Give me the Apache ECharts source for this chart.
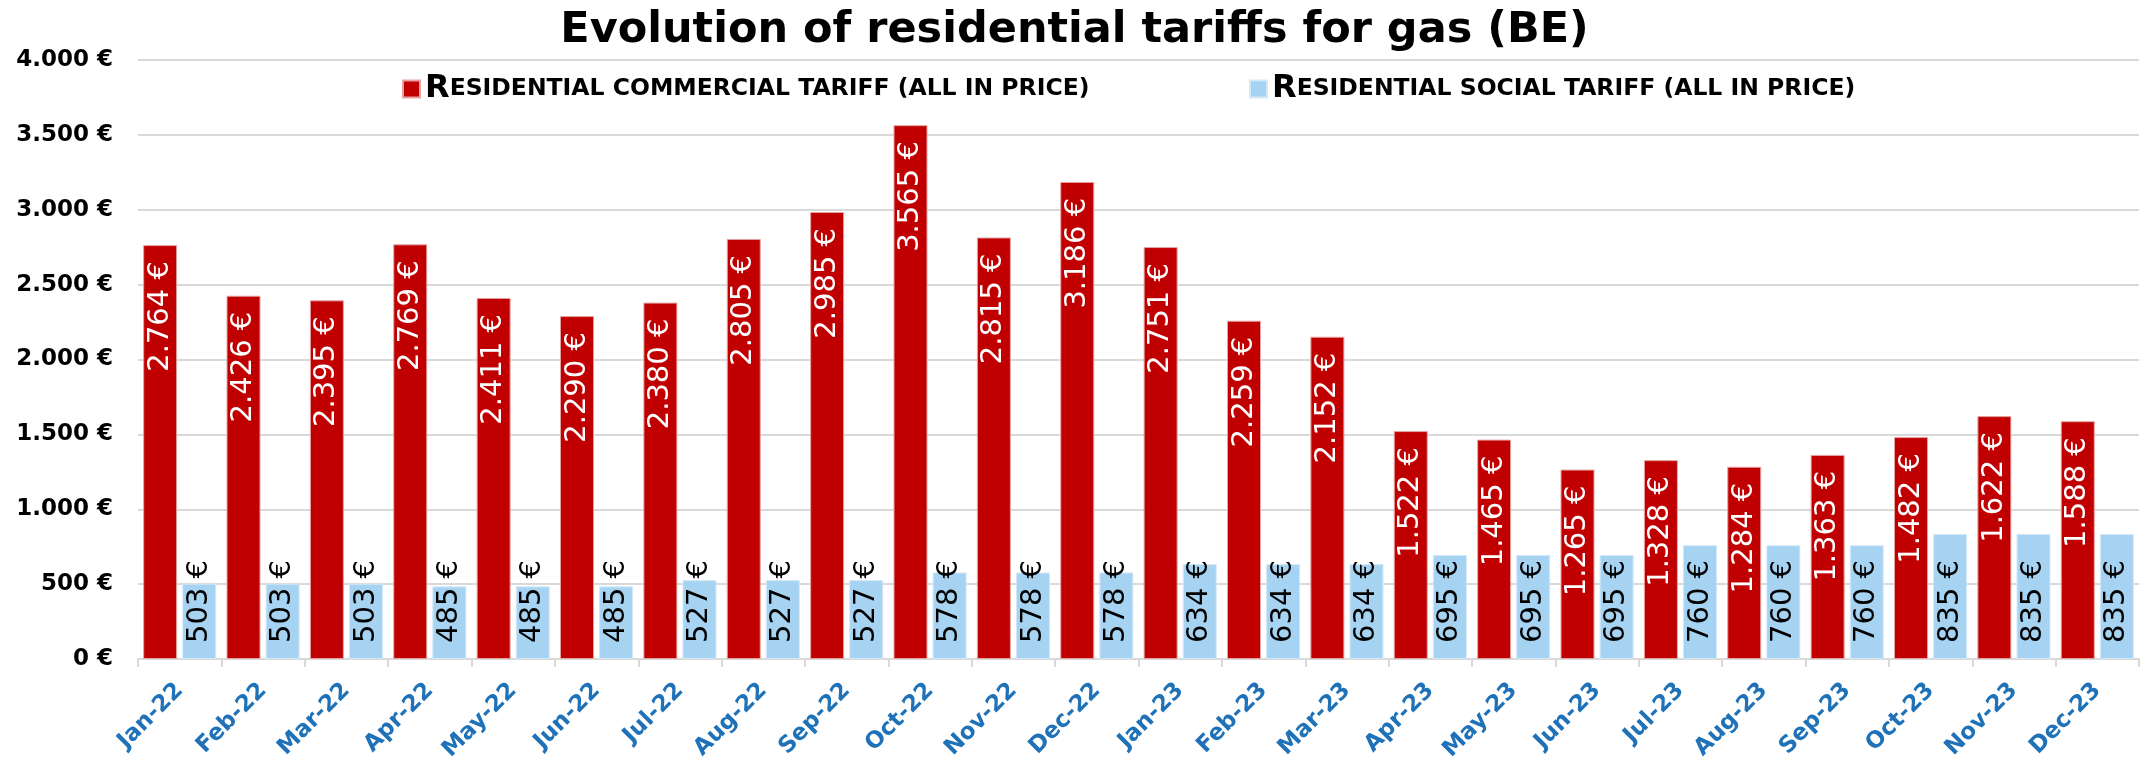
<!DOCTYPE html>
<html>
<head>
<meta charset="utf-8">
<title>Evolution of residential tariffs for gas (BE)</title>
<script src="https://cdn.jsdelivr.net/npm/echarts@6/dist/echarts.min.js"></script>
<style>
  html, body { margin: 0; padding: 0; background: #fff; }
  #chart { width: 2149px; height: 759px; }
</style>
</head>
<body>
<div id="chart"></div>
<script>
const months = ['Jan-22', 'Feb-22', 'Mar-22', 'Apr-22', 'May-22', 'Jun-22', 'Jul-22', 'Aug-22',
  'Sep-22', 'Oct-22', 'Nov-22', 'Dec-22', 'Jan-23', 'Feb-23', 'Mar-23', 'Apr-23', 'May-23',
  'Jun-23', 'Jul-23', 'Aug-23', 'Sep-23', 'Oct-23', 'Nov-23', 'Dec-23']
const commercial = [2764, 2426, 2395, 2769, 2411, 2290, 2380, 2805, 2985, 3565, 2815, 3186,
  2751, 2259, 2152, 1522, 1465, 1265, 1328, 1284, 1363, 1482, 1622, 1588]
const social = [503, 503, 503, 485, 485, 485, 527, 527, 527, 578, 578, 578,
  634, 634, 634, 695, 695, 695, 760, 760, 760, 835, 835, 835]
const yTicks = [0, 500, 1000, 1500, 2000, 2500, 3000, 3500, 4000]

const seriesNames = ['Residential commercial tariff (all in price)', 'Residential social tariff (all in price)']

// 2764 -> "2.764 €"
const euro = (v) => String(v).replace(/\B(?=(\d{3})+(?!\d))/g, '.') + ' €'

// fake small caps: first letter big, rest uppercase smaller
const smallCaps = (name) => '{a|' + name[0].toUpperCase() + '}{b|' + name.slice(1).toUpperCase() + '}'

const legendText = {
  rich: {
    a: { fontFamily: 'DejaVu Sans', fontWeight: 'bold', fontSize: 32, color: '#000' },
    b: { fontFamily: 'DejaVu Sans', fontWeight: 'bold', fontSize: 23.5, color: '#000' }
  }
}

const myChart = echarts.init(document.getElementById('chart'))

const options = {
  animation: false,
  title: {
    text: 'Evolution of residential tariffs for gas (BE)',
    left: 'center',
    top: 4,
    textStyle: {
      fontFamily: 'DejaVu Sans',
      fontWeight: 'bold',
      fontSize: 43,
      color: '#000'
    }
  },
  legend: [
    {
      data: [seriesNames[0]],
      top: 68,
      left: 397,
      itemWidth: 17,
      itemHeight: 17,
      icon: 'rect',
      formatter: smallCaps,
      textStyle: legendText
    },
    {
      data: [seriesNames[1]],
      top: 68,
      left: 1244,
      itemWidth: 17,
      itemHeight: 17,
      icon: 'rect',
      formatter: smallCaps,
      textStyle: legendText
    }
  ],
  grid: {
    left: 138,
    right: 10,
    top: 60,
    bottom: 100,
    outerBoundsMode: 'none'
  },
  xAxis: {
    type: 'category',
    data: months,
    axisLine: { lineStyle: { color: '#d9d9d9', width: 2 } },
    axisTick: { show: true, length: 8, lineStyle: { color: '#d9d9d9', width: 2 } },
    axisLabel: {
      rotate: 45,
      margin: 28,
      color: '#1F72B8',
      fontFamily: 'DejaVu Sans',
      fontWeight: 'bold',
      fontSize: 23
    }
  },
  yAxis: {
    type: 'value',
    min: 0,
    max: 4000,
    interval: 500,
    axisLine: { show: false },
    axisTick: { show: false },
    splitLine: { lineStyle: { color: '#d9d9d9', width: 2 } },
    axisLabel: {
      margin: 25,
      color: '#000',
      fontFamily: 'DejaVu Sans',
      fontWeight: 'bold',
      fontSize: 23,
      formatter: (v) => yTicks.includes(v) ? euro(v) : ''
    }
  },
  series: [
    {
      name: seriesNames[0],
      type: 'bar',
      data: commercial,
      barWidth: 34,
      barGap: '15%',
      itemStyle: { color: '#C00000', borderColor: '#e7a3a3', borderWidth: 1 },
      label: {
        show: true,
        position: 'insideTop',
        distance: 16,
        rotate: 90,
        align: 'right',
        verticalAlign: 'middle',
        color: '#fff',
        fontFamily: 'DejaVu Sans',
        fontSize: 29,
        formatter: (p) => euro(p.value)
      }
    },
    {
      name: seriesNames[1],
      type: 'bar',
      data: social,
      barWidth: 34,
      itemStyle: { color: '#A6D3F2', borderColor: '#d4e9f8', borderWidth: 1 },
      label: {
        show: true,
        position: 'insideBottom',
        distance: 16,
        rotate: 90,
        align: 'left',
        verticalAlign: 'middle',
        color: '#000',
        fontFamily: 'DejaVu Sans',
        fontSize: 29,
        formatter: (p) => euro(p.value)
      }
    }
  ]
}

myChart.setOption(options)
</script>
</body>
</html>
